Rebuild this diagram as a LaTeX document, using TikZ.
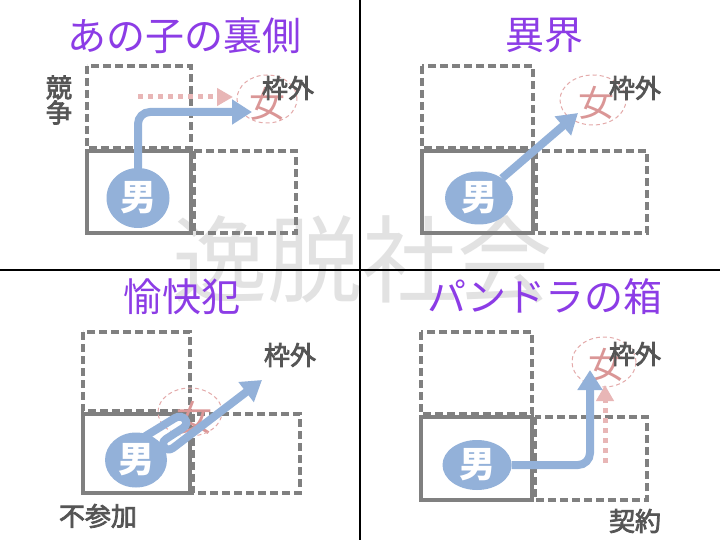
\documentclass[tikz,border=0pt]{standalone}
\usepackage{fontspec}
\newfontfamily\jp{Noto Sans CJK JP}
\newfontfamily\jpm[FakeBold=3]{Noto Sans CJK JP}
\usetikzlibrary{arrows.meta,shapes.geometric,calc}
\definecolor{manblue}{RGB}{147,177,217}
\definecolor{boxgray}{RGB}{128,128,128}
\definecolor{wpink}{RGB}{228,170,170}
\definecolor{wtext}{RGB}{218,150,150}
\definecolor{pdot}{RGB}{232,182,182}
\definecolor{labgray}{RGB}{85,85,85}
\definecolor{ttlpurple}{RGB}{140,60,230}
\definecolor{wmark}{RGB}{226,226,226}
\pgfdeclarelayer{back}
\pgfdeclarelayer{mid}
\pgfsetlayers{back,mid,main}
\tikzset{
  sbox/.style={draw=boxgray, line width=3.2pt},
  dbox/.style={sbox, dash pattern=on 8pt off 4pt},
  man/.style={ellipse, fill=manblue, text=white, inner sep=-2pt,
    font=\jp\bfseries\fontsize{36}{36}\selectfont},
  wring/.style={draw=wpink, line width=1pt, dash pattern=on 4pt off 3pt},
  wtxt/.style={text=wtext, inner sep=0pt, font=\jp\fontsize{36}{36}\selectfont},
  lab/.style={text=labgray, inner sep=0pt, font=\jpm\fontsize{26}{26}\selectfont},
  ttl/.style={text=ttlpurple, inner sep=0pt, font=\jp\fontsize{39}{39}\selectfont},
  barrow/.style={draw=manblue, line width=8pt, -{Triangle[width=24pt,length=20pt]}},
  parrow/.style={draw=pdot, line width=5pt, dash pattern=on 5pt off 5pt, -{Triangle[width=17pt,length=16pt]}},
  divider/.style={draw=black, line width=2pt}
}
\begin{document}
\begin{tikzpicture}[x=1pt,y=-1pt]
\useasboundingbox (0,0) rectangle (720,540);
\begin{pgfonlayer}{back}
\fill[white] (0,0) rectangle (720,540);
\node[text=wmark, inner sep=0pt, font=\jp\fontsize{95}{95}\selectfont] (wm) at (362,259) {逸脱社会};
% panel 1
\draw[dbox] (87,66) rectangle (191,148);
\draw[dbox] (194,151) rectangle (296,233);
\draw[sbox] (87,151) rectangle (191,233);
\node[wtxt] (w1) at (267,104) {女};
\draw[wring] (267,99) ellipse [x radius=30pt, y radius=24pt];
% panel 2
\draw[dbox] (422,66) rectangle (533,148);
\draw[dbox] (536,151) rectangle (647,233);
\draw[sbox] (422,151) rectangle (533,233);
\node[wtxt] (w2) at (596,103) {女};
\draw[wring] (593,100) ellipse [x radius=33pt, y radius=25pt];
% panel 3
\draw[dbox] (83,332) rectangle (190,411);
\draw[dbox] (193,414) rectangle (300,493);
\draw[sbox] (83,414) rectangle (190,493);
\node[wtxt] (w3) at (194,418) {女};
\draw[wring] (190,412) ellipse [x radius=32pt, y radius=24pt];
% panel 4
\draw[dbox] (421,332) rectangle (532,414);
\draw[dbox] (535,417) rectangle (647,500);
\draw[sbox] (421,417) rectangle (532,500);
\node[wtxt] (w4) at (606,365) {女};
\draw[wring] (604,362) ellipse [x radius=32pt, y radius=25pt];
% dividers
\draw[divider] (360,0) -- (360,540);
\draw[divider] (0,270) -- (720,270);
\end{pgfonlayer}

% men
\node[man, minimum width=63pt, minimum height=60pt] (m1) at (138,198) {男};
\node[man, minimum width=68pt, minimum height=53pt] (m2) at (479,198) {男};
\node[man, minimum width=62pt, minimum height=55pt] (m3) at (136,460) {男};
\node[man, minimum width=69pt, minimum height=50pt] (m4) at (477,465) {男};

% titles
\node[ttl] (t1) at (184,36) {あの子の裏側};
\node[ttl] (t2) at (544,35) {異界};
\node[ttl] (t3) at (182,297) {愉快犯};
\node[ttl] (t4) at (545,297) {パンドラの箱};

% labels
\node[lab] (o1) at (288,88) {枠外};
\node[lab, align=center] (k1) at (59,100) {競\\[-1pt]争};
\node[lab] (o2) at (635,88) {枠外};
\node[lab] (o3) at (290,355) {枠外};
\node[lab] (n3) at (98,516) {不参加};
\node[lab] (o4) at (635,354) {枠外};
\node[lab] (c4) at (635,521) {契約};

\coordinate (p1s) at (138,97);
\coordinate (p1t) at (233,97);
\coordinate (b1t) at (252,112);
\coordinate (b2t) at (578,113);
\coordinate (b3s) at (144,437);
\coordinate (b3t) at (262,380);
\coordinate (b4t) at (590,370);
\coordinate (p4s) at (605,463);
\coordinate (p4t) at (605,385);

\begin{pgfonlayer}{mid}
\draw[parrow] (p1s) -- (p1t);
\draw[barrow, rounded corners=12pt] (m1.north) |- (b1t);
\draw[barrow] (m2) -- (b2t);
\draw[barrow] (b3s) -- (175,418) .. controls (183,413) and (191,423) .. (183,428)
  -- (166,439) .. controls (159,444) and (165.6,453) .. (173,448) -- (b3t);
\draw[parrow] (p4s) -- (p4t);
\draw[barrow, rounded corners=12pt] (m4.east) -| (b4t);
\end{pgfonlayer}
\end{tikzpicture}
\end{document}
